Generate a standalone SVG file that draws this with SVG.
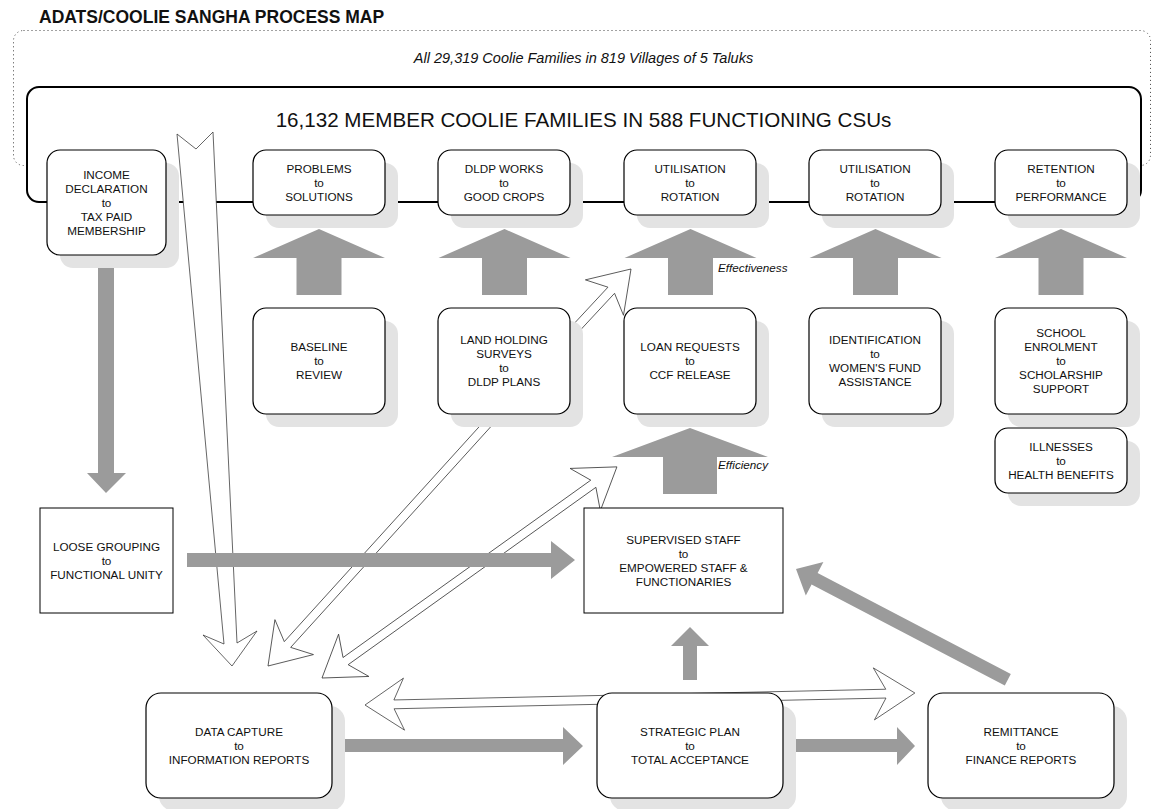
<svg xmlns="http://www.w3.org/2000/svg" width="1152" height="809" viewBox="0 0 1152 809">
<style>
text{font-family:"Liberation Sans",Arial,sans-serif;fill:#111}
.t{font-size:11.7px;text-anchor:middle}
.it{font-style:italic;font-size:11.7px}
.box{fill:#fff;stroke:#000;stroke-width:1.2}
.sq{fill:#fff;stroke:#000;stroke-width:1}
.sh{fill:#e3e3e3}
.g{fill:#9b9b9b}
.h{fill:#fff;stroke:#333;stroke-width:0.75;stroke-linejoin:miter}
</style>
<rect width="1152" height="809" fill="#fff"/>
<text id="title" x="39" y="22.5" style="font-weight:bold;font-size:17.5px">ADATS/COOLIE SANGHA PROCESS MAP</text>
<g id="all-families">
<rect x="13.5" y="30.5" width="1137" height="135" rx="10" fill="none" stroke="#444" stroke-width="1" stroke-dasharray="1 3"/>
<text x="583.5" y="63" class="it" style="font-size:14.5px;text-anchor:middle">All 29,319 Coolie Families in 819 Villages of 5 Taluks</text>
</g>
<g id="member-families">
<rect x="27" y="87" width="1114" height="115" rx="12" fill="#fff" stroke="#000" stroke-width="2"/>
<text x="583.5" y="127" style="font-size:20.6px;text-anchor:middle">16,132 MEMBER COOLIE FAMILIES IN 588 FUNCTIONING CSUs</text>
</g>
<g id="connectors">
<polygon class="h" points="177,134 196,149 213,132 237,643 257,631 232,666 203,635 224,644"/>
<path class="h" transform="translate(268,666) rotate(132.2)" d="M0,0 L-39,-26 L-29,-4.3 L-335,-4.3 L-335,4.3 L-29,4.3 L-39,26 Z"/>
<path class="h" transform="translate(631,269) rotate(-47.1)" d="M0,0 L-39,-26 L-29,-4.5 L-92,-4.5 L-92,4.5 L-29,4.5 L-39,26 Z"/>
<path class="h" transform="translate(322,678) rotate(-35.6)" d="M0,0 L39,-26 L29,-4.4 L333.7,-4.4 L323.7,-26 L362.7,0 L323.7,26 L333.7,4.4 L29,4.4 L39,26 Z"/>
<path class="h" transform="translate(365,705) rotate(-1.25)" d="M0,0 L39,-26 L29,-4.4 L521,-4.4 L509,-26 L550,0 L509,26 L521,4.4 L29,4.4 L39,26 Z"/>
<path class="g" d="M319,229 L385,258 L341.5,258 L341.5,295 L296.5,295 L296.5,258 L253,258 Z"/>
<path class="g" d="M504.5,229 L570.5,258 L527,258 L527,295 L482,295 L482,258 L438.5,258 Z"/>
<path class="g" d="M690.5,229 L756.5,258 L713,258 L713,295 L668,295 L668,258 L624.5,258 Z"/>
<path class="g" d="M875.5,229 L941.5,258 L898,258 L898,295 L853,295 L853,258 L809.5,258 Z"/>
<path class="g" d="M1061,229 L1127,258 L1083.5,258 L1083.5,295 L1038.5,295 L1038.5,258 L995,258 Z"/>
<path class="g" d="M690,428 L768,457 L717,457 L717,494 L663,494 L663,457 L612,457 Z"/>
<path class="g" d="M98,268 L114,268 L114,473 L126,473 L106,493 L87,473 L98,473 Z"/>
<path class="g" d="M187,553 L551,553 L551,541 L575,560 L551,579 L551,567 L187,567 Z"/>
<path class="g" d="M345,739 L563,739 L563,727 L583,746 L563,765 L563,752 L345,752 Z"/>
<path class="g" d="M795,739 L897,739 L897,727 L915,746 L897,765 L897,752 L795,752 Z"/>
<path class="g" d="M690,627 L709,646 L697,646 L697,680 L683,680 L683,646 L671,646 Z"/>
<path class="g" transform="translate(796,569) rotate(207.6)" d="M0,0 L-21,-19 L-21,-6.5 L-239,-6.5 L-239,6.5 L-21,6.5 L-21,19 Z"/>
<text x="718" y="272" class="it">Effectiveness</text>
<text x="718" y="469" class="it">Efficiency</text>
</g>
<g id="n-income">
<rect class="sh" x="60" y="163" width="119" height="105" rx="13"/>
<rect class="box" x="47" y="150" width="119" height="105" rx="13"/>
<text class="t" x="106.5" y="178.7">INCOME</text>
<text class="t" x="106.5" y="192.7">DECLARATION</text>
<text class="t" x="106.5" y="206.7">to</text>
<text class="t" x="106.5" y="220.7">TAX PAID</text>
<text class="t" x="106.5" y="234.7">MEMBERSHIP</text>
</g>
<g id="n-problems">
<rect class="sh" x="266" y="163" width="132" height="65" rx="13"/>
<rect class="box" x="253" y="150" width="132" height="65" rx="13"/>
<text class="t" x="319" y="172.7">PROBLEMS</text>
<text class="t" x="319" y="186.7">to</text>
<text class="t" x="319" y="200.7">SOLUTIONS</text>
</g>
<g id="n-dldp-works">
<rect class="sh" x="451" y="163" width="132" height="65" rx="13"/>
<rect class="box" x="438" y="150" width="132" height="65" rx="13"/>
<text class="t" x="504" y="172.7">DLDP WORKS</text>
<text class="t" x="504" y="186.7">to</text>
<text class="t" x="504" y="200.7">GOOD CROPS</text>
</g>
<g id="n-utilisation-1">
<rect class="sh" x="637" y="163" width="132" height="65" rx="13"/>
<rect class="box" x="624" y="150" width="132" height="65" rx="13"/>
<text class="t" x="690" y="172.7">UTILISATION</text>
<text class="t" x="690" y="186.7">to</text>
<text class="t" x="690" y="200.7">ROTATION</text>
</g>
<g id="n-utilisation-2">
<rect class="sh" x="822" y="163" width="132" height="65" rx="13"/>
<rect class="box" x="809" y="150" width="132" height="65" rx="13"/>
<text class="t" x="875" y="172.7">UTILISATION</text>
<text class="t" x="875" y="186.7">to</text>
<text class="t" x="875" y="200.7">ROTATION</text>
</g>
<g id="n-retention">
<rect class="sh" x="1008" y="163" width="132" height="65" rx="13"/>
<rect class="box" x="995" y="150" width="132" height="65" rx="13"/>
<text class="t" x="1061" y="172.7">RETENTION</text>
<text class="t" x="1061" y="186.7">to</text>
<text class="t" x="1061" y="200.7">PERFORMANCE</text>
</g>
<g id="n-baseline">
<rect class="sh" x="266" y="321" width="132" height="106" rx="13"/>
<rect class="box" x="253" y="308" width="132" height="106" rx="13"/>
<text class="t" x="319" y="351.2">BASELINE</text>
<text class="t" x="319" y="365.2">to</text>
<text class="t" x="319" y="379.2">REVIEW</text>
</g>
<g id="n-land-holding">
<rect class="sh" x="451" y="321" width="132" height="106" rx="13"/>
<rect class="box" x="438" y="308" width="132" height="106" rx="13"/>
<text class="t" x="504" y="344.2">LAND HOLDING</text>
<text class="t" x="504" y="358.2">SURVEYS</text>
<text class="t" x="504" y="372.2">to</text>
<text class="t" x="504" y="386.2">DLDP PLANS</text>
</g>
<g id="n-loan-requests">
<rect class="sh" x="637" y="321" width="132" height="106" rx="13"/>
<rect class="box" x="624" y="308" width="132" height="106" rx="13"/>
<text class="t" x="690" y="351.2">LOAN REQUESTS</text>
<text class="t" x="690" y="365.2">to</text>
<text class="t" x="690" y="379.2">CCF RELEASE</text>
</g>
<g id="n-identification">
<rect class="sh" x="822" y="321" width="132" height="106" rx="13"/>
<rect class="box" x="809" y="308" width="132" height="106" rx="13"/>
<text class="t" x="875" y="344.2">IDENTIFICATION</text>
<text class="t" x="875" y="358.2">to</text>
<text class="t" x="875" y="372.2">WOMEN'S FUND</text>
<text class="t" x="875" y="386.2">ASSISTANCE</text>
</g>
<g id="n-school">
<rect class="sh" x="1008" y="321" width="132" height="106" rx="13"/>
<rect class="box" x="995" y="308" width="132" height="106" rx="13"/>
<text class="t" x="1061" y="337.2">SCHOOL</text>
<text class="t" x="1061" y="351.2">ENROLMENT</text>
<text class="t" x="1061" y="365.2">to</text>
<text class="t" x="1061" y="379.2">SCHOLARSHIP</text>
<text class="t" x="1061" y="393.2">SUPPORT</text>
</g>
<g id="n-illnesses">
<rect class="sh" x="1008" y="441" width="132" height="65" rx="13"/>
<rect class="box" x="995" y="428" width="132" height="65" rx="13"/>
<text class="t" x="1061" y="450.7">ILLNESSES</text>
<text class="t" x="1061" y="464.7">to</text>
<text class="t" x="1061" y="478.7">HEALTH BENEFITS</text>
</g>
<g id="n-loose-grouping">
<rect class="sq" x="40" y="508" width="133" height="105"/>
<text class="t" x="106.5" y="550.7">LOOSE GROUPING</text>
<text class="t" x="106.5" y="564.7">to</text>
<text class="t" x="106.5" y="578.7">FUNCTIONAL UNITY</text>
</g>
<g id="n-supervised-staff">
<rect class="sq" x="584" y="508" width="199" height="105"/>
<text class="t" x="683.5" y="543.7">SUPERVISED STAFF</text>
<text class="t" x="683.5" y="557.7">to</text>
<text class="t" x="683.5" y="571.7">EMPOWERED STAFF &amp;</text>
<text class="t" x="683.5" y="585.7">FUNCTIONARIES</text>
</g>
<g id="n-data-capture">
<rect class="sh" x="159" y="706" width="186" height="105" rx="15"/>
<rect class="box" x="146" y="693" width="186" height="105" rx="15"/>
<text class="t" x="239" y="735.7">DATA CAPTURE</text>
<text class="t" x="239" y="749.7">to</text>
<text class="t" x="239" y="763.7">INFORMATION REPORTS</text>
</g>
<g id="n-strategic-plan">
<rect class="sh" x="610" y="706" width="186" height="105" rx="15"/>
<rect class="box" x="597" y="693" width="186" height="105" rx="15"/>
<text class="t" x="690" y="735.7">STRATEGIC PLAN</text>
<text class="t" x="690" y="749.7">to</text>
<text class="t" x="690" y="763.7">TOTAL ACCEPTANCE</text>
</g>
<g id="n-remittance">
<rect class="sh" x="941" y="706" width="186" height="105" rx="15"/>
<rect class="box" x="928" y="693" width="186" height="105" rx="15"/>
<text class="t" x="1021" y="735.7">REMITTANCE</text>
<text class="t" x="1021" y="749.7">to</text>
<text class="t" x="1021" y="763.7">FINANCE REPORTS</text>
</g>
</svg>
